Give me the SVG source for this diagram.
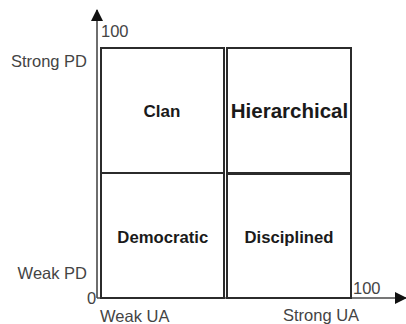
<svg xmlns="http://www.w3.org/2000/svg" width="406" height="324" viewBox="0 0 406 324">
  <style>
    .box { fill: #ffffff; stroke: #2b2b2b; stroke-width: 2; }
    .axis { fill: none; stroke: #4a4a4a; stroke-width: 1.6; }
    .lbl { font-family: "Liberation Sans", Arial, sans-serif; font-size: 16.5px; fill: #444444; }
    .name { font-family: "Liberation Sans", Arial, sans-serif; font-weight: bold; fill: #1a1a1a; text-anchor: middle; }
  </style>
  <defs>
    <marker id="arrow" viewBox="0 0 12 12" refX="11" refY="6" markerWidth="12" markerHeight="12" markerUnits="userSpaceOnUse" orient="auto">
      <path d="M0,0 L12,6 L0,12 Z" fill="#111111"/>
    </marker>
  </defs>

  <rect width="406" height="324" fill="#ffffff"/>

  <!-- axes -->
  <g id="connectors">
    <line class="axis" x1="97" y1="298" x2="97" y2="10" marker-end="url(#arrow)"/>
    <line class="axis" x1="97" y1="298" x2="406" y2="298" marker-end="url(#arrow)"/>
  </g>

  <!-- quadrants -->
  <g id="clan">
    <rect class="box" x="101" y="48" width="123" height="125"/>
    <text class="name" x="162" y="116.5" font-size="17">Clan</text>
  </g>
  <g id="hierarchical">
    <rect class="box" x="227" y="48" width="124" height="125"/>
    <text class="name" x="289.5" y="118" font-size="20.5">Hierarchical</text>
  </g>
  <g id="democratic">
    <rect class="box" x="101" y="173" width="123" height="125"/>
    <text class="name" x="162.8" y="243.3" font-size="16.7">Democratic</text>
  </g>
  <g id="disciplined">
    <rect class="box" x="227" y="174" width="124" height="124"/>
    <text class="name" x="289" y="243" font-size="16.7">Disciplined</text>
  </g>

  <!-- axis labels -->
  <g id="labels">
    <text class="lbl" x="87" y="66.5" text-anchor="end">Strong PD</text>
    <text class="lbl" x="87" y="278.5" text-anchor="end">Weak PD</text>
    <text class="lbl" x="101" y="37">100</text>
    <text class="lbl" x="353" y="294">100</text>
    <text class="lbl" x="87" y="303.5" font-size="14">0</text>
    <text class="lbl" x="100" y="322">Weak UA</text>
    <text class="lbl" x="283" y="321">Strong UA</text>
  </g>
</svg>
